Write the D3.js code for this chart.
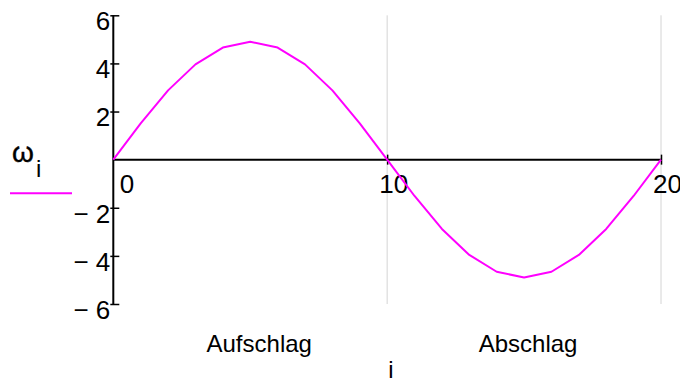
<!DOCTYPE html>
<html>
<head>
<meta charset="utf-8">
<script src="https://cdn.jsdelivr.net/npm/d3@7"></script>
<style>
  html, body { margin: 0; padding: 0; background: #fff; }
  svg { display: block; font-family: "Liberation Sans", Arial, sans-serif; }
</style>
</head>
<body>
<svg id="chart" width="680" height="381"></svg>
<script>
// Sample index and angular velocity per sample
const indices = [0, 1, 2, 3, 4, 5, 6, 7, 8, 9, 10, 11, 12, 13, 14, 15, 16, 17, 18, 19, 20];
const omega = [0, 1.51, 2.88, 3.96, 4.66, 4.9, 4.66, 3.96, 2.88, 1.51, 0,
               -1.51, -2.88, -3.96, -4.66, -4.9, -4.66, -3.96, -2.88, -1.51, 0];
const xTicks = [0, 10, 20];
const yTicks = [-6, -4, -2, 2, 4, 6];
const phaseLabels = ["Aufschlag", "Abschlag"];
const phaseCenters = [5, 15];

const svg = d3.select("#chart");
const x = d3.scaleLinear().domain([0, 20]).range([113.3, 661]);
const y = d3.scaleLinear().domain([-6, 6]).range([304, 15.3]);

// vertical grid lines
svg.append("g").selectAll("line")
  .data([10, 20]).join("line")
  .attr("x1", d => x(d)).attr("x2", d => x(d))
  .attr("y1", y(6)).attr("y2", y(-6))
  .attr("stroke", "#d4d4d4").attr("stroke-width", 1);

// y axis
const yAxis = svg.append("g")
  .attr("transform", `translate(${x(0)},0)`)
  .call(d3.axisLeft(y).tickValues(yTicks).tickSize(3)
    .tickFormat(d => d < 0 ? "\u2212 " + Math.abs(d) : String(d)));
yAxis.select(".domain").remove();
yAxis.selectAll(".tick line").attr("x1", 6).attr("x2", -3)
  .attr("stroke", "#000").attr("stroke-width", 1.5);
yAxis.selectAll(".tick text")
  .attr("x", -3).attr("dy", "0.55em")
  .attr("font-size", 26).attr("fill", "#000")
  .attr("font-family", "Liberation Sans, Arial, sans-serif");
svg.append("line")
  .attr("x1", x(0)).attr("x2", x(0))
  .attr("y1", y(6)).attr("y2", y(-6))
  .attr("stroke", "#000").attr("stroke-width", 2);

// x axis along zero
const xAxis = svg.append("g")
  .attr("transform", `translate(0,${y(0)})`)
  .call(d3.axisBottom(x).tickValues(xTicks).tickSize(5)
    .tickFormat(d3.format("d")));
xAxis.select(".domain").remove();
xAxis.selectAll(".tick line")
  .attr("y1", -5).attr("y2", 5)
  .attr("stroke", d => d === 0 ? "none" : "#000").attr("stroke-width", 1.5);
xAxis.selectAll(".tick text")
  .attr("y", 33).attr("dy", null)
  .attr("text-anchor", d => d === 0 ? "start" : "middle")
  .attr("x", 6)
  .attr("font-size", 26).attr("fill", "#000")
  .attr("font-family", "Liberation Sans, Arial, sans-serif");
svg.append("line")
  .attr("x1", x(0)).attr("x2", x(20))
  .attr("y1", y(0)).attr("y2", y(0))
  .attr("stroke", "#000").attr("stroke-width", 2);

// the omega trace
svg.append("path")
  .datum(indices)
  .attr("fill", "none")
  .attr("stroke", "#ff00ff")
  .attr("stroke-width", 2)
  .attr("stroke-linejoin", "round")
  .attr("d", d3.line().x(i => x(i)).y(i => y(omega[i])));

// phase labels beneath the plot
svg.append("g").selectAll("text")
  .data(phaseLabels).join("text")
  .attr("x", (d, k) => x(phaseCenters[k]) + (k === 0 ? 9 : 4))
  .attr("y", 352)
  .attr("text-anchor", "middle")
  .attr("font-size", 24)
  .text(d => d);

// x axis title
svg.append("text")
  .attr("x", 391).attr("y", 378)
  .attr("text-anchor", "middle")
  .attr("font-size", 24)
  .text("i");

// y trace label with legend line
const yl = svg.append("text").attr("x", 12).attr("y", 162);
yl.append("tspan").attr("font-size", 28).attr("stroke", "#000").attr("stroke-width", 0.4).text("\u03c9");
yl.append("tspan").attr("x", 36).attr("y", 177).attr("font-size", 24).text("i");
svg.append("line")
  .attr("x1", 10).attr("x2", 72).attr("y1", 193.3).attr("y2", 193.3)
  .attr("stroke", "#ff00ff").attr("stroke-width", 2);
</script>
</body>
</html>
